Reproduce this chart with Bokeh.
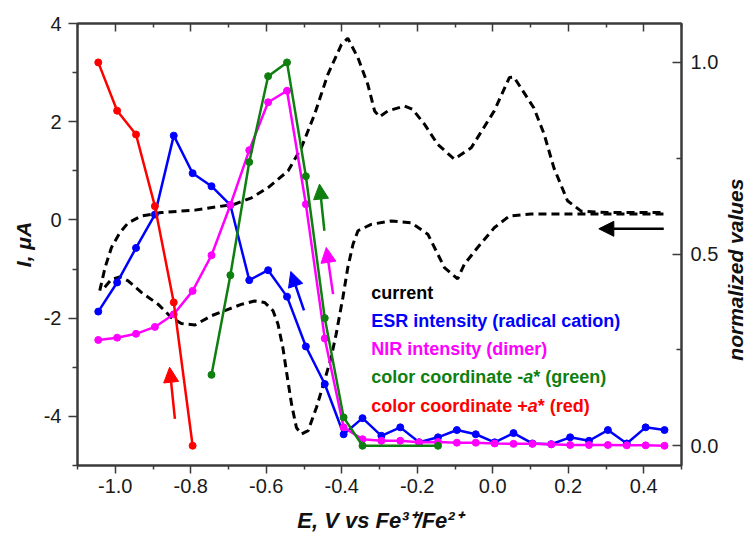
import math
from bokeh.plotting import figure
from bokeh.layouts import row
from bokeh.models import (Range1d, LinearAxis, FixedTicker, PrintfTickFormatter,
                          CustomJSTickFormatter, Label, Arrow, NormalHead)
from bokeh.embed import file_html
from bokeh.resources import INLINE

FONT = "Liberation Sans"

# ---- cyclic voltammogram (current, left axis, uA) ----
cv_e_up = [-1.041, -1.027, -1.010, -0.988, -0.966, -0.931, -0.878, -0.789, -0.684, -0.639,
           -0.595, -0.542, -0.507, -0.472, -0.437, -0.401, -0.384, -0.357, -0.331, -0.313,
           -0.300, -0.278, -0.234, -0.212, -0.181, -0.146, -0.102, -0.057, 0.004, 0.044,
           0.056, 0.109, 0.136, 0.162, 0.198, 0.234, 0.304, 0.453]
cv_i_up = [-1.44, -0.97, -0.56, -0.26, -0.06, 0.08, 0.15, 0.20, 0.32, 0.45,
           0.66, 1.00, 1.47, 2.15, 2.96, 3.57, 3.70, 3.30, 2.76, 2.22,
           2.10, 2.22, 2.32, 2.25, 1.95, 1.54, 1.24, 1.47, 2.22, 2.90,
           2.91, 2.28, 1.75, 1.06, 0.39, 0.18, 0.15, 0.15]
cv_e_down = [0.453, 0.181, 0.101, 0.044, 0.004, -0.040, -0.075, -0.093, -0.128, -0.172,
             -0.216, -0.269, -0.322, -0.357, -0.370, -0.384, -0.397, -0.415, -0.428, -0.446,
             -0.467, -0.489, -0.507, -0.520, -0.533, -0.544, -0.556, -0.569, -0.582, -0.604,
             -0.631, -0.666, -0.701, -0.745, -0.789, -0.825, -0.851, -0.886, -0.930, -0.966,
             -0.988, -1.010, -1.036]
cv_i_down = [0.12, 0.12, 0.12, 0.08, -0.16, -0.56, -0.90, -1.20, -0.97, -0.29,
             -0.06, -0.02, -0.09, -0.22, -0.49, -0.97, -1.58, -2.33, -2.80, -3.28,
             -3.82, -4.29, -4.36, -4.23, -3.75, -3.21, -2.60, -2.12, -1.85, -1.68,
             -1.65, -1.72, -1.82, -1.95, -2.14, -2.11, -1.99, -1.72, -1.48, -1.24,
             -1.16, -1.21, -1.44]

# ---- normalized spectro-electrochemical series (right axis) ----
potentials = [-1.045, -0.995, -0.945, -0.895, -0.845, -0.795, -0.745, -0.695, -0.645, -0.595,
              -0.545, -0.495, -0.445, -0.395, -0.345, -0.295, -0.245, -0.195, -0.145, -0.095,
              -0.045, 0.005, 0.055, 0.105, 0.155, 0.205, 0.255, 0.305, 0.355, 0.405, 0.455]
esr = [0.350, 0.426, 0.516, 0.603, 0.809, 0.711, 0.677, 0.628, 0.432, 0.458,
       0.389, 0.259, 0.161, 0.030, 0.072, 0.026, 0.048, 0.009, 0.022, 0.041,
       0.030, 0.009, 0.033, 0.006, 0.004, 0.022, 0.013, 0.041, 0.006, 0.048, 0.041]
nir = [0.276, 0.282, 0.292, 0.310, 0.343, 0.404, 0.497, 0.628, 0.771, 0.896,
       0.926, 0.630, 0.280, 0.048, 0.017, 0.013, 0.013, 0.009, 0.010, 0.008,
       0.008, 0.006, 0.005, 0.005, 0.004, 0.002, 0.002, 0.002, 0.001, 0.001, 0.0]
green_e = [-0.745, -0.695, -0.645, -0.595, -0.545, -0.495, -0.445, -0.395, -0.345, -0.145]
green_a = [0.185, 0.445, 0.740, 0.964, 1.0, 0.703, 0.333, 0.074, 0.0, 0.0]
red_e = [-1.045, -0.995, -0.945, -0.895, -0.845, -0.795]
red_a = [1.0, 0.874, 0.812, 0.625, 0.374, 0.0]

x_ticks = [-1.0, -0.8, -0.6, -0.4, -0.2, 0.0, 0.2, 0.4]
x_minor = [-1.1, -0.9, -0.7, -0.5, -0.3, -0.1, 0.1, 0.3, 0.5]
y_ticks = [-4, -2, 0, 2, 4]
y_minor = [-5, -3, -1, 1, 3]
r_ticks = [0.0, 0.5, 1.0]
r_minor = [0.25, 0.75]

BLUE = "#0000ff"
MAG = "#ff00ff"
GREEN = "#0f7f0f"
RED = "#ff0000"
AX = "#3a3a3a"

p = figure(width=722, height=537, x_range=Range1d(-1.1, 0.5), y_range=Range1d(-5, 4),
           output_backend="svg", toolbar_location=None,
           x_axis_type=None, y_axis_type=None,
           min_border_left=77, min_border_right=41, min_border_top=23, min_border_bottom=72)
p.extra_y_ranges = {"norm": Range1d(-0.0515, 1.1015)}
p.xgrid.visible = False
p.ygrid.visible = False
p.outline_line_color = AX
p.outline_line_width = 2
p.background_fill_color = "white"
p.border_fill_color = "white"


def style_axis(ax):
    ax.axis_line_color = AX
    ax.axis_line_width = 2
    ax.major_tick_line_color = AX
    ax.major_tick_line_width = 1.5
    ax.minor_tick_line_color = AX
    ax.minor_tick_line_width = 1.5
    ax.major_label_text_font = FONT
    ax.major_label_text_font_size = "20px"
    ax.major_label_text_color = "#1a1a1a"
    ax.axis_label_text_font = FONT
    ax.axis_label_text_font_size = "21px"
    ax.axis_label_text_font_style = "bold italic"
    ax.axis_label_text_color = "#111111"


bottom = LinearAxis(ticker=FixedTicker(ticks=x_ticks, minor_ticks=x_minor),
                    formatter=PrintfTickFormatter(format="%.1f"),
                    axis_label="E, V vs Fe³⁺/Fe²⁺")
style_axis(bottom)
bottom.axis_label_text_font_size = "22px"
bottom.major_tick_out = 8
bottom.major_tick_in = 0
bottom.minor_tick_out = 4
bottom.minor_tick_in = 0
bottom.major_label_standoff = 5
bottom.axis_label_standoff = 12
p.add_layout(bottom, "below")

top = LinearAxis(ticker=FixedTicker(ticks=x_ticks, minor_ticks=x_minor),
                 formatter=CustomJSTickFormatter(code="return ''"))
style_axis(top)
top.major_tick_out = 0
top.major_tick_in = 8
top.minor_tick_out = 0
top.minor_tick_in = 4
top.major_label_standoff = 0
p.add_layout(top, "above")

left = LinearAxis(ticker=FixedTicker(ticks=y_ticks, minor_ticks=y_minor),
                  formatter=PrintfTickFormatter(format="%d"),
                  axis_label="I, μA")
style_axis(left)
left.major_tick_out = 9
left.major_tick_in = 0
left.minor_tick_out = 5
left.minor_tick_in = 0
left.major_label_standoff = 7
left.axis_label_standoff = 6
p.add_layout(left, "left")

right = LinearAxis(y_range_name="norm",
                   ticker=FixedTicker(ticks=r_ticks, minor_ticks=r_minor),
                   formatter=PrintfTickFormatter(format="%.1f"))
style_axis(right)
right.major_tick_out = 0
right.major_tick_in = 9
right.minor_tick_out = 0
right.minor_tick_in = 5
right.major_label_standoff = 9
p.add_layout(right, "right")

# current
p.line(cv_e_up + cv_e_down, cv_i_up + cv_i_down, line_color="black", line_width=3,
       line_dash="8 5")

# normalized series
for xs, ys, c in [(potentials, esr, BLUE), (potentials, nir, MAG),
                  (green_e, green_a, GREEN), (red_e, red_a, RED)]:
    p.line(xs, ys, line_color=c, line_width=2.5, y_range_name="norm")
    p.scatter(xs, ys, marker="circle", size=7, fill_color=c, line_color=c,
              y_range_name="norm")

# direction arrows (x_start, y_start, x_end, y_end) in data units of left axis
arrows = [
    (-0.842, -4.05, -0.856, -3.00, RED),
    (-0.500, -1.84, -0.535, -1.05, BLUE),
    (-0.423, -1.51, -0.441, -0.56, MAG),
    (-0.446, -0.22, -0.459, 0.73, GREEN),
    (0.453, -0.18, 0.281, -0.18, "black"),
]
for xs, ys, xe, ye, c in arrows:
    p.add_layout(Arrow(end=NormalHead(size=15, fill_color=c, line_color=c, line_width=1),
                       x_start=xs, y_start=ys, x_end=xe, y_end=ye,
                       line_color=c, line_width=2.5))

# legend texts
LX = -0.322
FS = 18
rows = [
    (-1.479, [("current", "bold")], "black"),
    (-2.055, [("ESR intensity (radical cation)", "bold")], BLUE),
    (-2.630, [("NIR intensity (dimer)", "bold")], MAG),
    (-3.206, [("color coordinate -", "bold"), ("a", "bold italic"), ("* (green)", "bold")], GREEN),
    (-3.784, [("color coordinate +", "bold"), ("a", "bold italic"), ("* (red)", "bold")], RED),
]
# Arial-bold advance widths (em units) of the prefix pieces
piece_w = {"color coordinate -": 8.446, "color coordinate +": 8.697, "a": 0.556}
for y, pieces, c in rows:
    off = 0.0
    for txt, style in pieces:
        p.add_layout(Label(x=LX, y=y, text=txt, x_offset=off, text_color=c,
                           text_font=FONT, text_font_size=f"{FS}px",
                           text_font_style=style, text_baseline="middle",
                           text_align="left"))
        off += piece_w.get(txt, 0) * FS

# narrow companion canvas carrying the right-axis title (read bottom-to-top)
t = figure(width=26, height=537, x_range=Range1d(0, 1), y_range=Range1d(0, 537),
           output_backend="svg", toolbar_location=None,
           x_axis_type=None, y_axis_type=None,
           min_border_left=0, min_border_right=0, min_border_top=0, min_border_bottom=0)
t.xgrid.visible = False
t.ygrid.visible = False
t.outline_line_color = None
t.background_fill_color = "white"
t.border_fill_color = "white"
t.add_layout(Label(x=0.5, y=238, text="normalized values", angle=math.pi / 2,
                   text_font=FONT, text_font_size="21px", text_font_style="bold italic",
                   text_color="#111111", text_align="center", text_baseline="middle"))

layout = row(p, t, spacing=0)
open("out.html", "w").write(file_html(layout, INLINE))
